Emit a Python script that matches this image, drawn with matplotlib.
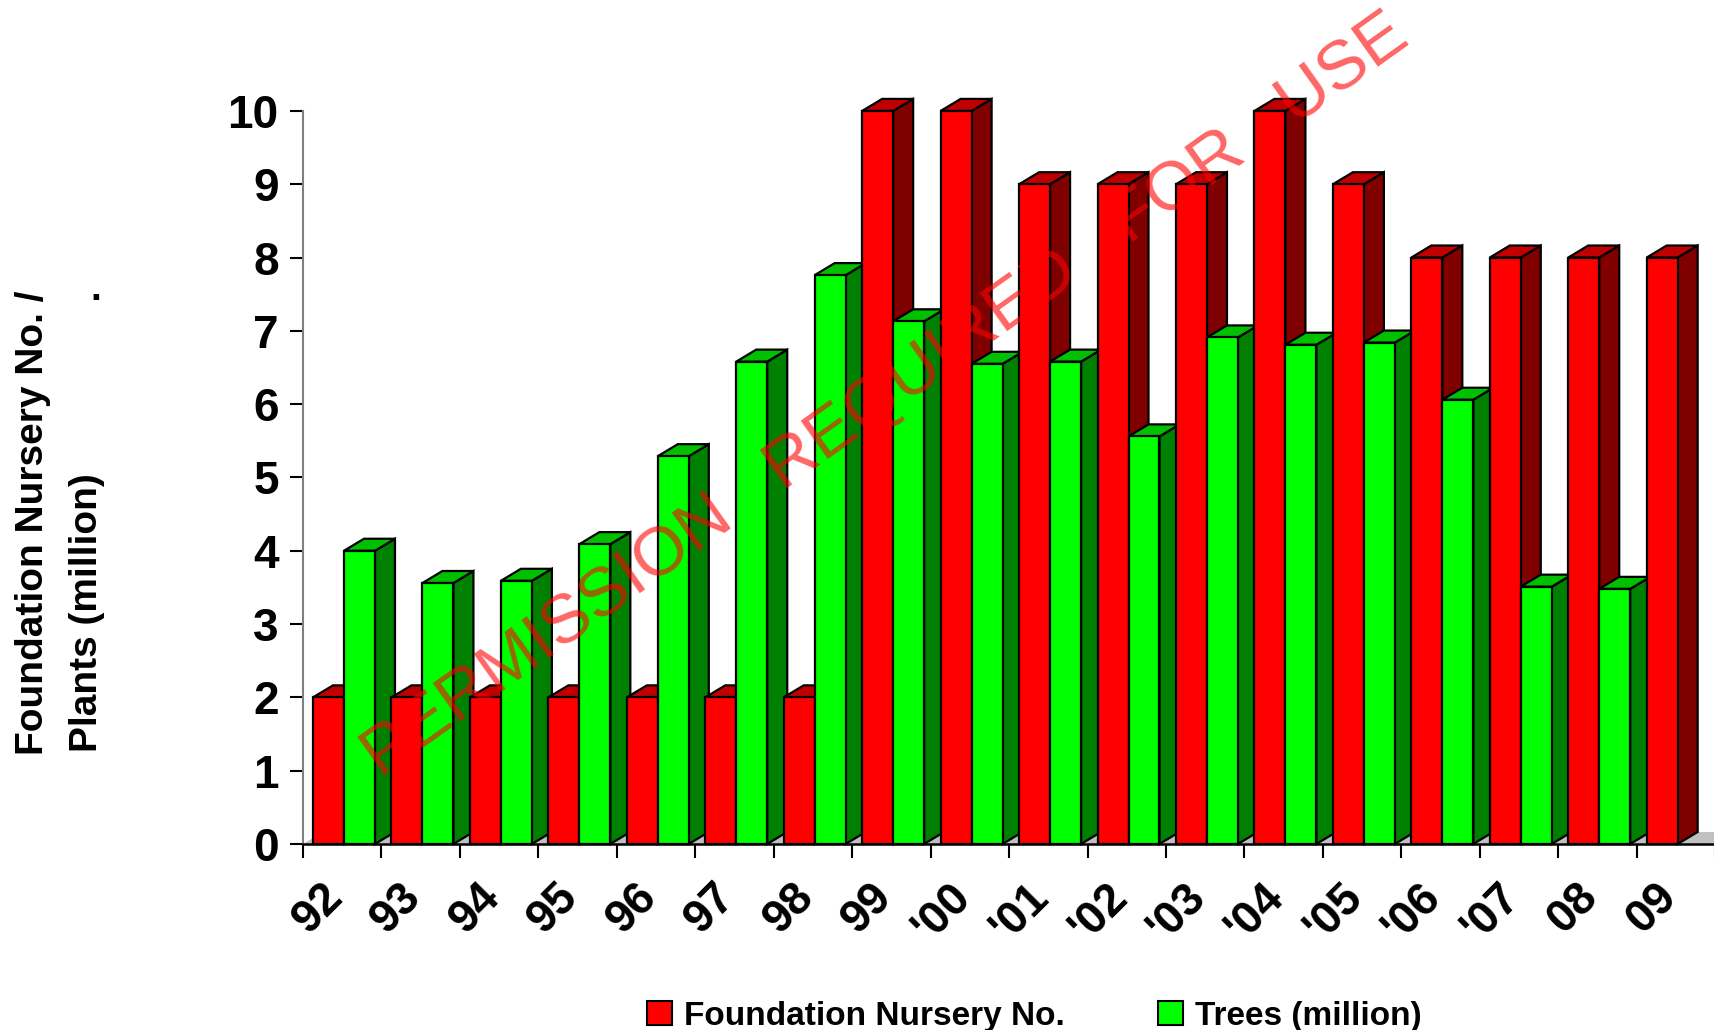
import numpy as np
import matplotlib.pyplot as plt
from matplotlib.patches import Polygon, Patch

plt.rcParams['font.family'] = ['Liberation Sans', 'DejaVu Sans']

# data
years = ["92", "93", "94", "95", "96", "97", "98", "99", "'00", "'01", "'02",
         "'03", "'04", "'05", "'06", "'07", "08", "09"]
nursery = [2, 2, 2, 2, 2, 2, 2, 10, 10, 9, 9, 9, 10, 9, 8, 8, 8, 8]
trees = [4.0, 3.56, 3.59, 4.09, 5.29, 6.58, 7.76, 7.13, 6.55, 6.58, 5.56,
         6.91, 6.81, 6.84, 6.06, 3.51, 3.48, np.nan]

# 3d look
W = 0.395      # bar front width
GAP = 0.127    # gap from category start to first bar
DX = 0.255     # depth offset in x (data units)
DY = 0.164     # depth offset in y (data units)

RED = ('#ff0000', '#c00000', '#800000')
GREEN = ('#00ff00', '#00c000', '#008000')


def bar3d(ax, x, h, cols):
    front, top, side = cols
    kw = dict(edgecolor='black', linewidth=1.6, clip_on=False)
    ax.add_patch(Polygon([(x + W, 0), (x + W + DX, DY), (x + W + DX, h + DY), (x + W, h)],
                         facecolor=side, **kw))
    ax.add_patch(Polygon([(x, h), (x + DX, h + DY), (x + W + DX, h + DY), (x + W, h)],
                         facecolor=top, **kw))
    ax.add_patch(Polygon([(x, 0), (x + W, 0), (x + W, h), (x, h)],
                         facecolor=front, **kw))


fig = plt.figure(figsize=(17.15, 10.30), dpi=100)
ax = fig.add_axes([0.1767, 0.1806, 0.8234, 0.7117])
n = len(years)
ax.set_xlim(0, n)
ax.set_ylim(0, 10)

# floor
ax.add_patch(Polygon([(0, 0), (n + 1, 0), (n + 1 + DX, DY), (DX, DY)],
                     facecolor='#c0c0c0', edgecolor='none', clip_on=False))

for i in range(n):
    bar3d(ax, i + GAP, nursery[i], RED)
    if not np.isnan(trees[i]):
        bar3d(ax, i + GAP + W, trees[i], GREEN)

for s in ['top', 'right']:
    ax.spines[s].set_visible(False)
ax.spines['left'].set_color('#808080')
ax.spines['left'].set_linewidth(1.5)
ax.spines['bottom'].set_color('black')
ax.spines['bottom'].set_linewidth(1.8)
ax.spines['bottom'].set_zorder(5)

ax.set_yticks(range(0, 11))
ax.tick_params(axis='y', length=9.5, width=1.5, color='black', pad=8)
for lab in ax.get_yticklabels():
    lab.set_fontsize(33)
    lab.set_fontweight('bold')

ax.set_xticks(range(0, n + 1))
ax.set_xticklabels([])
ax.tick_params(axis='x', which='major', length=10, width=1.5, color='black')
ax.set_xticks(np.arange(n) + 0.22, years, minor=True)
ax.tick_params(axis='x', which='minor', length=0, pad=22)
for lab in ax.get_xticklabels(minor=True):
    lab.set_fontsize(33)
    lab.set_fontweight('bold')
    lab.set_rotation(45)
    lab.set_ha('right')
    lab.set_va('top')
    lab.set_rotation_mode('anchor')

# y axis title
fig.text(33 / 1715, 1 - 755 / 1030, 'Foundation Nursery No. /', rotation=90,
         ha='center', va='bottom', fontsize=28, fontweight='bold')
fig.text(87 / 1715, 1 - 752 / 1030, 'Plants (million)', rotation=90,
         ha='center', va='bottom', fontsize=28, fontweight='bold')
fig.text(96 / 1715, 1 - 290 / 1030, '.', ha='center', va='center',
         fontsize=28, fontweight='bold')

# watermark
fig.text(886 / 1715, 1 - 396 / 1030, 'PERMISSION   REQUIRED   FOR   USE',
         rotation=35.5, rotation_mode='anchor', ha='center', va='center',
         fontsize=50, color='#ff0000', alpha=0.6, zorder=10)

fig.legend(handles=[Patch(facecolor='#ff0000', edgecolor='black', lw=1.5,
                          label='Foundation Nursery No.'),
                    Patch(facecolor='#00ff00', edgecolor='black', lw=1.5,
                          label='Trees (million)')],
           loc='center', bbox_to_anchor=(0.603, 1 - 1016 / 1030), ncol=2,
           frameon=False, prop=dict(size=24, weight='bold'),
           columnspacing=2.8, handlelength=0.75, handleheight=0.75, handletextpad=0.35)

plt.savefig('out.png', dpi=100)
